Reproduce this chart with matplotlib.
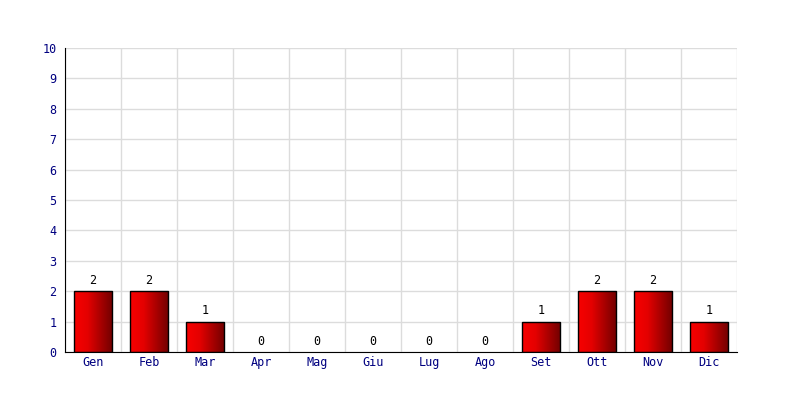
import numpy as np
import matplotlib
matplotlib.use("Agg")
import matplotlib.pyplot as plt
from matplotlib.colors import LinearSegmentedColormap

# data
mesi = ["Gen", "Feb", "Mar", "Apr", "Mag", "Giu", "Lug", "Ago", "Set", "Ott", "Nov", "Dic"]
valori = [2, 2, 1, 0, 0, 0, 0, 0, 1, 2, 2, 1]
y_ticks = list(range(0, 11))

plt.rcParams['font.family'] = 'DejaVu Sans Mono'

fig = plt.figure(figsize=(8, 4), dpi=100)
ax = fig.add_axes([65 / 800, 48 / 400, 672 / 800, 304 / 400])

x = np.arange(len(mesi))

# grid at category boundaries and at each integer
ax.set_xticks(x)
ax.set_xticks(np.arange(-0.5, len(mesi), 1), minor=True)
ax.set_yticks(y_ticks)
ax.grid(True, which="minor", axis="x", color="#dcdcdc", lw=1)
ax.grid(True, which="major", axis="y", color="#dcdcdc", lw=1)
ax.set_axisbelow(True)

# red gradient bars
cmap = LinearSegmentedColormap.from_list(
    "rosso", [(0.0, "#f80000"), (0.35, "#e40000"), (1.0, "#700000")])
grad = np.linspace(0, 1, 256).reshape(1, -1)
bars = ax.bar(x, valori, width=0.69, facecolor="none", edgecolor="black", lw=1, zorder=3)
for b in bars:
    if b.get_height() == 0:
        b.set_edgecolor("none")
        continue
    x0, y0 = b.get_x(), b.get_y()
    im = ax.imshow(grad, cmap=cmap, aspect="auto", zorder=2,
                   extent=[x0, x0 + b.get_width(), y0, y0 + b.get_height()])
    im.set_clip_path(b)
ax.set_xlim(-0.5, len(mesi) - 0.5)
ax.set_ylim(0, 10)

for xi, v in zip(x, valori):
    ax.annotate(str(v), (xi, v), xytext=(0, 3), textcoords="offset points",
                ha="center", va="bottom", fontsize=8.5, color="black")

ax.set_xticklabels(mesi, fontsize=8.5, color="#000080")
ax.set_yticklabels([str(t) for t in y_ticks], fontsize=8.5, color="#000080")
ax.tick_params(which="both", length=0)
ax.tick_params(axis="x", pad=3)
ax.tick_params(axis="y", pad=6)

for s in ["top", "right"]:
    ax.spines[s].set_visible(False)
ax.spines["left"].set_color("black")
ax.spines["bottom"].set_color("black")

fig.savefig("out.png", dpi=100)
